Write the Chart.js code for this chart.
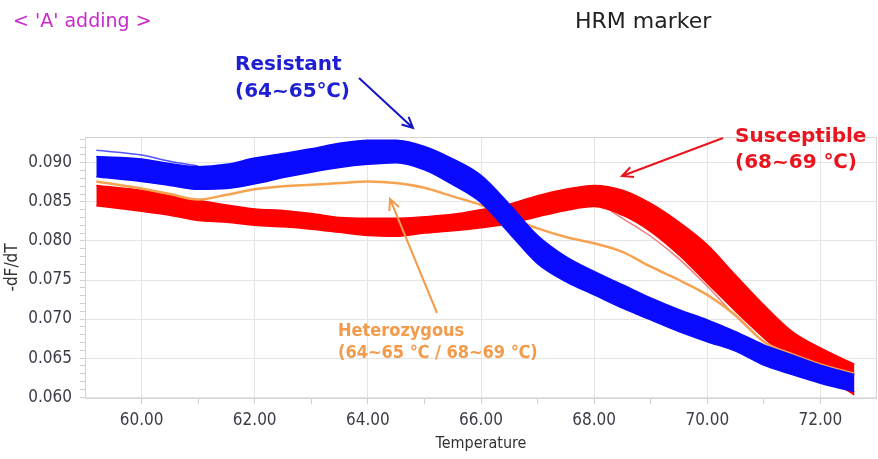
<!DOCTYPE html>
<html>
<head>
<meta charset="utf-8">
<script src="https://cdn.jsdelivr.net/npm/chart.js@4/dist/chart.umd.min.js"></script>
<style>
  html, body { margin: 0; padding: 0; background: #fff; }
  #hrm { display: block; }
</style>
</head>
<body>
<canvas id="hrm" width="878" height="459"></canvas>
<script>
// melt temperatures (x) shared by the bundles
const temps = [59.2, 60, 60.5, 61, 61.5, 62, 62.5, 63, 63.5, 64, 64.5, 65, 65.5, 66, 66.5,
               67, 67.5, 68, 68.5, 69, 69.5, 70, 70.5, 71, 71.5, 72, 72.6];

// Resistant bundle, upper and lower edge
const blueUpper = [0.0908, 0.0905, 0.0899, 0.0895, 0.0898, 0.0906, 0.0912, 0.0918, 0.0925, 0.0929, 0.0929,
                   0.0921, 0.0905, 0.0884, 0.0847, 0.0807, 0.0780, 0.0761, 0.0744, 0.0727, 0.0712, 0.0699,
                   0.0684, 0.0667, 0.0654, 0.0641, 0.0629];
const blueLower = [0.0882, 0.0876, 0.0871, 0.0866, 0.0867, 0.0873, 0.0881, 0.0888, 0.0894, 0.0898, 0.0900,
                   0.0891, 0.0872, 0.0849, 0.0810, 0.0771, 0.0748, 0.0731, 0.0714, 0.0699, 0.0684, 0.0671,
                   0.0659, 0.0641, 0.0629, 0.0618, 0.0607];

// Susceptible bundle, upper and lower edge
const redUpper = [0.0871, 0.0865, 0.0859, 0.0852, 0.0846, 0.0841, 0.0839, 0.0835, 0.0830, 0.0829, 0.0829,
                  0.0831, 0.0834, 0.0840, 0.0847, 0.0858, 0.0866, 0.0871, 0.0865, 0.0848, 0.0824, 0.0795,
                  0.0756, 0.0718, 0.0684, 0.0663, 0.0642];
const redLower = [0.0845, 0.0838, 0.0833, 0.0826, 0.0824, 0.0820, 0.0818, 0.0815, 0.0811, 0.0807, 0.0806,
                  0.0810, 0.0813, 0.0817, 0.0822, 0.0831, 0.0839, 0.0844, 0.0833, 0.0812, 0.0782, 0.0746,
                  0.0710, 0.0676, 0.0646, 0.0629, 0.0603];

// Heterozygous sample
const hetero = [0.0876, 0.0867, 0.0860, 0.0853, 0.0859, 0.0866, 0.0870, 0.0872, 0.0874, 0.0876, 0.0874,
                0.0868, 0.0857, 0.0846, 0.0830, 0.0816, 0.0805, 0.0797, 0.0786, 0.0767, 0.0750, 0.0731,
                0.0705, 0.0671, 0.0655, 0.0642, 0.0630];

// a few stray replicate curves
const blueStrayTemps = [59.2, 60, 60.5, 61];
const blueStray = [0.0916, 0.0910, 0.0902, 0.0896];
const redStrayTemps = [68.3, 68.5, 69, 69.5, 70, 70.5, 71, 71.5, 72];
const redStray = [0.0838, 0.0829, 0.0806, 0.0777, 0.0742, 0.0704, 0.0671, 0.0648, 0.0633];

// axis ticks
const xMajor = [60, 62, 64, 66, 68, 70, 72];
const xMinor = [61, 63, 65, 67, 69, 71];
const yMajor = [0.060, 0.065, 0.070, 0.075, 0.080, 0.085, 0.090];

function pts(xs, ys) {
    return xs.map((x, i) => ({ x: x, y: ys[i] }));
}

const lineBase = { pointRadius: 0, cubicInterpolationMode: 'monotone', fill: false };

const data = {
    datasets: [
        { ...lineBase, data: pts(temps, blueUpper), borderColor: '#0a0aff', borderWidth: 1.5 },
        { ...lineBase, data: pts(temps, blueLower), borderColor: '#0a0aff', borderWidth: 1.5,
          backgroundColor: '#0a0aff', fill: '-1' },
        { ...lineBase, data: pts(temps, hetero), borderColor: '#f5a350', borderWidth: 2.5 },
        { ...lineBase, data: pts(temps, redUpper), borderColor: '#ff0000', borderWidth: 1.5 },
        { ...lineBase, data: pts(temps, redLower), borderColor: '#ff0000', borderWidth: 1.5,
          backgroundColor: '#ff0000', fill: '-1' },
        { ...lineBase, data: pts(redStrayTemps, redStray), borderColor: 'rgba(240,110,110,0.9)', borderWidth: 1.5 },
        { ...lineBase, data: pts(blueStrayTemps, blueStray), borderColor: 'rgba(40,40,255,0.8)', borderWidth: 1.5 }
    ]
};

const tickFont = { family: "'DejaVu Sans Condensed', 'DejaVu Sans'", size: 17 };

function arrow(ctx, x1, y1, x2, y2, color) {
    const a = Math.atan2(y2 - y1, x2 - x1);
    const h = 12;
    ctx.save();
    ctx.strokeStyle = color;
    ctx.lineWidth = 2;
    ctx.beginPath();
    ctx.moveTo(x1, y1);
    ctx.lineTo(x2, y2);
    ctx.moveTo(x2 - h * Math.cos(a - 0.45), y2 - h * Math.sin(a - 0.45));
    ctx.lineTo(x2, y2);
    ctx.lineTo(x2 - h * Math.cos(a + 0.45), y2 - h * Math.sin(a + 0.45));
    ctx.stroke();
    ctx.restore();
}

const notes = {
    id: 'notes',
    afterDraw(chart) {
        const ctx = chart.ctx;
        const a = chart.chartArea;
        ctx.save();
        ctx.strokeStyle = '#d4d4d4';
        ctx.lineWidth = 1;
        ctx.strokeRect(a.left + 0.5, a.top + 0.5, a.right - a.left - 1, a.bottom - a.top);

        ctx.textBaseline = 'alphabetic';
        ctx.font = "19px 'DejaVu Sans'";
        ctx.fillStyle = '#c82cc8';
        ctx.fillText("< 'A' adding >", 13, 27);
        ctx.font = "22px 'DejaVu Sans'";
        ctx.fillStyle = '#222';
        ctx.fillText('HRM marker', 575, 28);

        ctx.font = "bold 20px 'DejaVu Sans'";
        ctx.fillStyle = '#1e1ed2';
        ctx.fillText('Resistant', 235, 70);
        ctx.fillText('(64~65℃)', 235, 97);
        ctx.fillStyle = '#e8141e';
        ctx.fillText('Susceptible', 735, 142);
        ctx.fillText('(68~69 ℃)', 735, 168);
        ctx.font = "bold 18px 'DejaVu Sans Condensed', 'DejaVu Sans'";
        ctx.fillStyle = '#f29b4b';
        ctx.fillText('Heterozygous', 338, 336);
        ctx.fillText('(64~65 ℃ / 68~69 ℃)', 338, 358);
        ctx.restore();

        arrow(ctx, 359, 78, 413, 128, '#1414c8');
        arrow(ctx, 723, 138, 622, 176, '#e8141e');
        arrow(ctx, 437, 313, 390, 199, '#f29b4b');
    }
};

const config = {
    type: 'line',
    data: data,
    plugins: [notes],
    options: {
        responsive: false,
        animation: false,
        devicePixelRatio: 1,
        layout: { padding: { top: 137, right: 1, left: 0, bottom: 0 } },
        plugins: { legend: { display: false }, tooltip: { enabled: false } },
        scales: {
            x: {
                type: 'linear',
                min: 59,
                max: 73,
                afterFit: (s) => { s.height = 61; },
                afterBuildTicks: (s) => {
                    s.ticks = xMajor.concat(xMinor).sort((p, q) => p - q)
                        .map(v => ({ value: v, major: xMajor.includes(v) }));
                },
                border: { display: false },
                grid: {
                    color: (c) => (c.tick && c.tick.major) ? '#e4e4e4' : 'rgba(0,0,0,0)',
                    tickColor: '#cfcfcf',
                    tickLength: 6
                },
                ticks: {
                    autoSkip: false,
                    maxRotation: 0,
                    padding: 6,
                    color: '#3c3c48',
                    font: tickFont,
                    callback: (v, i, t) => t[i].major ? v.toFixed(2) : ''
                },
                title: {
                    display: true,
                    text: 'Temperature',
                    color: '#333',
                    font: { family: "'DejaVu Sans Condensed', 'DejaVu Sans'", size: 16 },
                    padding: { top: 0, bottom: 6 }
                }
            },
            y: {
                min: 0.0599,
                max: 0.0933,
                afterFit: (s) => { s.width = 85; },
                afterBuildTicks: (s) => {
                    const list = [];
                    for (let k = 60; k <= 93; k++) {
                        list.push({ value: k / 1000, major: k % 5 === 0 });
                    }
                    s.ticks = list;
                },
                border: { display: false },
                grid: {
                    color: (c) => (c.tick && c.tick.major) ? '#e4e4e4' : 'rgba(0,0,0,0)',
                    tickColor: '#cfcfcf',
                    tickLength: 5
                },
                ticks: {
                    autoSkip: false,
                    padding: 8,
                    color: '#3c3c48',
                    font: tickFont,
                    callback: (v, i, t) => t[i].major ? v.toFixed(3) : ''
                },
                title: {
                    display: true,
                    text: '-dF/dT',
                    color: '#333',
                    font: { family: "'DejaVu Sans Condensed', 'DejaVu Sans'", size: 17 },
                    padding: { top: 2, bottom: 0 }
                }
            }
        }
    }
};

const chartEl = document.getElementById('hrm');
new Chart(chartEl, config);
</script>
</body>
</html>
